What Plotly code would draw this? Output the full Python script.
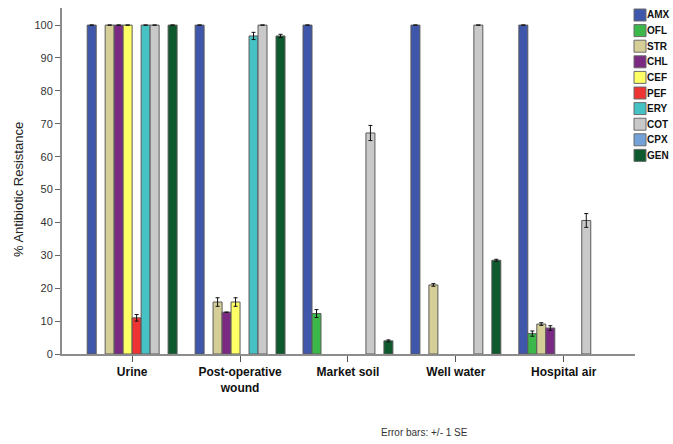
import plotly.graph_objects as go

# Sample sources and antibiotics
sources = ["Urine", "Post-operative<br>wound", "Market soil", "Well water", "Hospital air"]
antibiotics = ["AMX", "OFL", "STR", "CHL", "CEF", "PEF", "ERY", "COT", "CPX", "GEN"]
colors = ["#3F57AB", "#3CB84B", "#D5CF97", "#7A2A82", "#FFFF66",
          "#EE3333", "#46C1C4", "#C9C9C9", "#72A2D8", "#0E5A2E"]

# % resistance per antibiotic, one value per source
AMX = [100, 100, 100, 100, 100]
OFL = [0, 0, 12.3, 0, 6.2]
STR = [100, 15.8, 0, 21.0, 9.1]
CHL = [100, 12.7, 0, 0, 7.9]
CEF = [100, 15.8, 0, 0, 0]
PEF = [11.0, 0, 0, 0, 0]
ERY = [100, 96.7, 0, 0, 0]
COT = [100, 100, 67.2, 100, 40.6]
CPX = [0, 0, 0, 0, 0]
GEN = [100, 96.7, 4.0, 28.5, 0]

# standard errors (+/- 1 SE)
AMX_se = [0, 0, 0, 0, 0]
OFL_se = [0, 0, 1.2, 0, 0.8]
STR_se = [0, 1.3, 0, 0.4, 0.4]
CHL_se = [0, 0, 0, 0, 0.7]
CEF_se = [0, 1.3, 0, 0, 0]
PEF_se = [1.0, 0, 0, 0, 0]
ERY_se = [0, 1.1, 0, 0, 0]
COT_se = [0, 0, 2.3, 0, 2.1]
CPX_se = [0, 0, 0, 0, 0]
GEN_se = [0, 0.5, 0.3, 0.3, 0]

values = [AMX, OFL, STR, CHL, CEF, PEF, ERY, COT, CPX, GEN]
errors = [AMX_se, OFL_se, STR_se, CHL_se, CEF_se, PEF_se, ERY_se, COT_se, CPX_se, GEN_se]

fig = go.Figure()
for name, col, vals, se in zip(antibiotics, colors, values, errors):
    # zero resistance leaves an empty slot in the group
    shown = [v if v > 0 else None for v in vals]
    fig.add_trace(go.Bar(
        x=list(range(len(sources))), y=shown, name=name,
        marker=dict(color=col, line=dict(color="#5a5a5a", width=1)),
        error_y=dict(type="data", array=se, visible=True,
                     color="#111111", thickness=1, width=2),
        showlegend=False,
    ))

W, H = 673, 444
ml, mr, mt, mb = 62, 38, 8, 90
pw, ph = W - ml - mr, H - mt - mb

# hand-built legend: swatch + label per antibiotic
shapes = []
annotations = []
lx0 = 634
ly0 = 15
step = 15.6
for i, (name, col) in enumerate(zip(antibiotics, colors)):
    yc = ly0 + i * step
    shapes.append(dict(type="rect", xref="paper", yref="paper",
                       x0=(lx0 - ml) / pw, x1=(lx0 + 12 - ml) / pw,
                       y0=(H - mb - (yc + 6)) / ph, y1=(H - mb - (yc - 6)) / ph,
                       fillcolor=col, line=dict(color="#6a6a6a", width=1)))
    annotations.append(dict(xref="paper", yref="paper",
                            x=(lx0 + 12 - ml) / pw, y=(H - mb - yc) / ph,
                            text="<b>" + name + "</b>", showarrow=False,
                            xanchor="left", yanchor="middle", borderpad=0,
                            font=dict(family="Liberation Sans", size=10, color="#111111")))

annotations.append(dict(xref="paper", yref="paper", x=(18 - ml) / pw,
                        y=(H - mb - 190) / ph, text="% Antibiotic Resistance",
                        textangle=-90, showarrow=False, xanchor="center", yanchor="middle",
                        font=dict(family="Liberation Sans", size=13, color="#222222")))
annotations.append(dict(xref="paper", yref="paper", x=(424 - ml) / pw,
                        y=(H - mb - 432) / ph, text="Error bars: +/- 1 SE",
                        showarrow=False, xanchor="center", yanchor="middle",
                        font=dict(family="Liberation Sans", size=10, color="#333333")))

fig.update_layout(
    width=W, height=H,
    margin=dict(l=ml, r=mr, t=mt, b=mb),
    paper_bgcolor="white", plot_bgcolor="white",
    barmode="group", bargap=0.167, bargroupgap=0,
    shapes=shapes, annotations=annotations,
    xaxis=dict(
        range=[-0.65, 4.66],
        tickmode="array", tickvals=list(range(len(sources))),
        ticktext=["<b>" + s + "</b>" for s in sources],
        ticks="outside", ticklen=6, tickcolor="#555555", tickwidth=1,
        showline=True, linecolor="#8c8c8c", linewidth=2,
        showgrid=False, zeroline=False,
        tickfont=dict(family="Liberation Sans", size=12, color="#111111"),
    ),
    yaxis=dict(
        range=[0, 105.2],
        tickmode="array", tickvals=list(range(0, 101, 10)),
        ticks="outside", ticklen=5, tickcolor="#666666", tickwidth=1,
        showline=True, linecolor="#8c8c8c", linewidth=2,
        showgrid=False, zeroline=False,
        tickfont=dict(family="Liberation Sans", size=11, color="#333333"),
    ),
)

fig.write_html("out.html")
